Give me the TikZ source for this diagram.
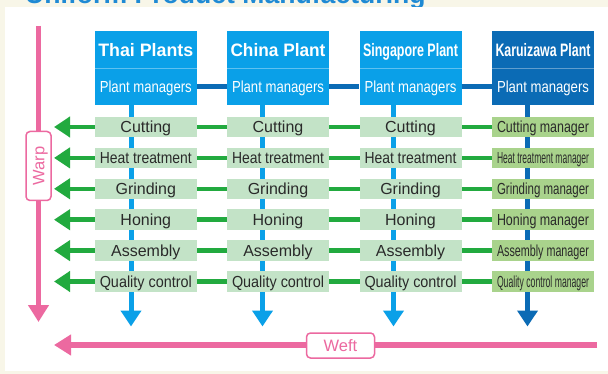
\documentclass[tikz,border=0pt]{standalone}
\usepackage{fontspec}
\setmainfont{Liberation Sans}
\usetikzlibrary{arrows.meta}
\definecolor{cream}{HTML}{F8F6E8}
\definecolor{titleblue}{HTML}{1F8AD4}
\definecolor{lblue}{HTML}{0AA0E8}
\definecolor{dblue}{HTML}{0B6BB5}
\definecolor{procgreen}{HTML}{C3E3C7}
\definecolor{mgrgreen}{HTML}{A9D38C}
\definecolor{linegreen}{HTML}{22AA3F}
\definecolor{pinkc}{HTML}{EC69A0}
\definecolor{txt}{HTML}{2A2A2A}
\pgfdeclarelayer{bg}
\pgfsetlayers{bg,main}
\newsavebox\fitbox
\newcommand\fitw[2]{\sbox\fitbox{#2}\ifdim\wd\fitbox>#1\relax\resizebox{#1}{\height}{\usebox\fitbox}\else\usebox\fitbox\fi}
\tikzset{
  plantname/.style={fill=#1, minimum width=102pt, minimum height=38pt, inner sep=0pt, text=white,
    font=\fontsize{18}{18}\selectfont\bfseries, text height=12.9pt, text depth=0pt},
  plantmgr/.style={fill=#1, minimum width=102pt, minimum height=36pt, inner sep=0pt, text=white,
    font=\fontsize{16}{16}\selectfont, text height=11.5pt, text depth=0pt},
  proc/.style={fill=procgreen, minimum width=102pt, minimum height=20.5pt, inner sep=0pt, text=txt,
    font=\fontsize{16}{16}\selectfont, text height=11.5pt, text depth=0pt},
  mgr/.style={proc, fill=mgrgreen},
  rowarrow/.style={draw=linegreen, line width=4.5pt, -{Triangle[width=20pt,length=16pt]}},
  varrow/.style={draw=#1, line width=5pt, -{Triangle[width=20pt,length=16pt]}},
  mgrlink/.style={draw=dblue, line width=5pt},
  divider/.style={draw=white, draw opacity=0.35, line width=1pt},
  pinkarrow/.style={draw=pinkc, line width=5.5pt, -{Triangle[width=20pt,length=17pt]}},
  tag/.style={draw=pinkc, line width=1.5pt, fill=white, rounded corners=4pt, text=pinkc,
    font=\fontsize{16.5}{16.5}\selectfont, inner sep=0pt, text height=11.8pt, text depth=0pt},
}
\begin{document}
\begin{tikzpicture}[x=1pt,y=-1pt]
\useasboundingbox (0,0) rectangle (608,374);
% plant headers
\foreach \j/\xx/\nm/\col in {1/145.8/Thai Plants/lblue, 2/278/China Plant/lblue, 3/410.5/Singapore Plant/lblue, 4/543/Karuizawa Plant/dblue}{
  \node[plantname=\col] (p\j) at (\xx,50) {\fitw{95pt}{\nm}};
  \node[plantmgr=\col] (m\j) at (\xx,87) {\fitw{92pt}{Plant managers}};
  \draw[divider] (m\j.north west) -- (m\j.north east);
}
% process rows
\foreach \k/\lab in {1/Cutting, 2/Heat treatment, 3/Grinding, 4/Honing, 5/Assembly, 6/Quality control}{
  \pgfmathsetmacro\yy{127+30.9*(\k-1)}
  \foreach \j/\xx in {1/145.8, 2/278, 3/410.5}{
    \node[proc] (r\k-\j) at (\xx,\yy) {\fitw{92pt}{\lab}};
  }
  \node[mgr] (r\k-4) at (543,\yy) {\fitw{92pt}{\lab\ manager}};
  \coordinate (g\k) at (54,\yy);
}
% arrow ends
\coordinate (t1) at (131,326.5);
\coordinate (t2) at (262.5,326.5);
\coordinate (t3) at (393.5,326.5);
\coordinate (t4) at (527.5,326.5);
\coordinate (warptop) at (38.5,26);
\coordinate (warptip) at (38.5,322);
\coordinate (weftstart) at (597,345);
\coordinate (wefttip) at (54,345);
% tags
\node[tag, rotate=90, minimum width=69pt, minimum height=25pt] (warp) at (38.5,166) {Warp};
\node[tag, minimum width=68pt, minimum height=25pt] (weft) at (340.5,345.5) {Weft};
% links between plant managers
\draw[mgrlink] (m1.east) -- (m2.west);
\draw[mgrlink] (m2.east) -- (m3.west);
\draw[mgrlink] (m3.east) -- (m4.west);
\begin{pgfonlayer}{bg}
  \fill[cream] (0,0) rectangle (608,374);
  \node[anchor=base west, inner sep=0pt, text=titleblue, font=\fontsize{26.6}{26.6}\selectfont\bfseries] (title) at (25,4) {Uniform Product Manufacturing};
  \fill[white] (5,7) rectangle (608,371);
  \foreach \k in {1,...,6}{
    \draw[rowarrow] (r\k-4.west) -- (g\k);
  }
  \draw[varrow=lblue] (m1.south -| t1) -- (t1);
  \draw[varrow=lblue] (m2.south -| t2) -- (t2);
  \draw[varrow=lblue] (m3.south -| t3) -- (t3);
  \draw[varrow=dblue] (m4.south -| t4) -- (t4);
  \draw[pinkarrow] (warptop) -- (warptip);
  \draw[pinkarrow] (weftstart) -- (wefttip);
\end{pgfonlayer}
\end{tikzpicture}
\end{document}
